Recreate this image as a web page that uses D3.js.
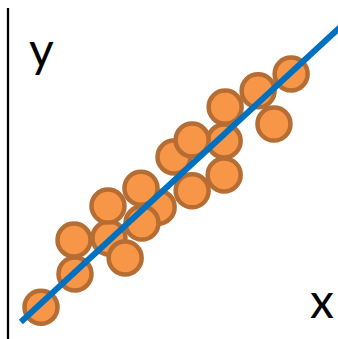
<!DOCTYPE html>
<html>
<head>
<meta charset="utf-8">
<script src="https://cdn.jsdelivr.net/npm/d3@7"></script>
<style>
  html, body { margin: 0; padding: 0; background: #fff; }
  svg { display: block; }
</style>
</head>
<body>
<svg width="338" height="339"></svg>
<script>
// scatter points (data units, 0..10 on both axes)
const pointX = [1.00, 3.06, 4.55, 6.55, 2.03, 2.00, 3.03, 3.55, 4.03, 4.06, 5.03, 5.58, 5.58, 6.55, 6.58, 7.58, 8.06, 8.58];
const pointY = [0.94, 2.98, 3.89, 5.84, 1.92, 2.92, 3.92, 2.39, 4.45, 3.42, 5.37, 5.87, 4.37, 4.84, 6.84, 7.32, 6.34, 7.82];

// trend line end points
const lineX = [0.39, 10.2];
const lineY = [0.50, 9.32];

// axis titles
const axisLabels = ["x", "y"];

const width = 338, height = 339;

let svg = d3.select("svg");

let x = d3.scaleLinear().domain([0, 10]).range([8, 338]);
let y = d3.scaleLinear().domain([0, 10]).range([339, 0]);

// vertical axis line
svg.append("line")
  .attr("x1", x(0)).attr("x2", x(0))
  .attr("y1", y(0)).attr("y2", 8)
  .attr("stroke", "#000")
  .attr("stroke-width", 2.3);

// points
let points = pointX.map((d, i) => ({x: d, y: pointY[i]}));

svg.append("g")
  .selectAll("circle")
  .data(points)
  .enter().append("circle")
  .attr("cx", d => x(d.x))
  .attr("cy", d => y(d.y))
  .attr("r", 16.5)
  .attr("fill", "#F79646")
  .attr("stroke", "#B56D33")
  .attr("stroke-width", 4.5);

// fitted line
svg.append("line")
  .attr("x1", x(lineX[0])).attr("y1", y(lineY[0]))
  .attr("x2", x(lineX[1])).attr("y2", y(lineY[1]))
  .attr("stroke", "#0070C0")
  .attr("stroke-width", 6);

// labels
svg.append("text")
  .attr("x", 334).attr("y", 318)
  .attr("text-anchor", "end")
  .style("font-family", "Lato, 'Liberation Sans', sans-serif")
  .style("font-size", "48px")
  .text(axisLabels[0]);

svg.append("text")
  .attr("x", 29).attr("y", 67)
  .style("font-family", "Lato, 'Liberation Sans', sans-serif")
  .style("font-size", "48px")
  .text(axisLabels[1]);
</script>
</body>
</html>
